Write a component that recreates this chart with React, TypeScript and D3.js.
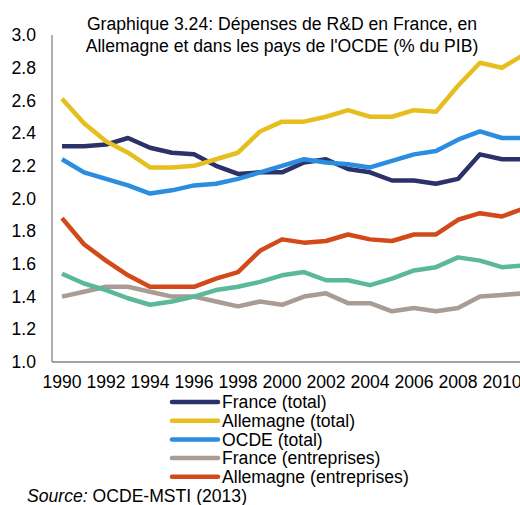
import * as d3 from "d3"

const years = d3.range(1990, 2012)
const yTicks = [1.0, 1.2, 1.4, 1.6, 1.8, 2.0, 2.2, 2.4, 2.6, 2.8, 3.0]
const xTickYears = [1990, 1992, 1994, 1996, 1998, 2000, 2002, 2004, 2006, 2008, 2010]

const franceTotal = [2.32, 2.32, 2.33, 2.37, 2.31, 2.28, 2.27, 2.20, 2.15, 2.16, 2.16, 2.22, 2.24, 2.18, 2.16, 2.11, 2.11, 2.09, 2.12, 2.27, 2.24, 2.24]
const allemagneTotal = [2.61, 2.46, 2.35, 2.28, 2.19, 2.19, 2.20, 2.24, 2.28, 2.41, 2.47, 2.47, 2.50, 2.54, 2.50, 2.50, 2.54, 2.53, 2.69, 2.83, 2.80, 2.88]
const ocdeTotal = [2.24, 2.16, 2.12, 2.08, 2.03, 2.05, 2.08, 2.09, 2.12, 2.16, 2.20, 2.24, 2.22, 2.21, 2.19, 2.23, 2.27, 2.29, 2.36, 2.41, 2.37, 2.37]
const franceEntr = [1.40, 1.43, 1.46, 1.46, 1.43, 1.40, 1.40, 1.37, 1.34, 1.37, 1.35, 1.40, 1.42, 1.36, 1.36, 1.31, 1.33, 1.31, 1.33, 1.40, 1.41, 1.42]
const allemagneEntr = [1.88, 1.72, 1.62, 1.53, 1.46, 1.46, 1.46, 1.51, 1.55, 1.68, 1.75, 1.73, 1.74, 1.78, 1.75, 1.74, 1.78, 1.78, 1.87, 1.91, 1.89, 1.94]
const ocdeEntr = [1.54, 1.48, 1.44, 1.39, 1.35, 1.37, 1.40, 1.44, 1.46, 1.49, 1.53, 1.55, 1.50, 1.50, 1.47, 1.51, 1.56, 1.58, 1.64, 1.62, 1.58, 1.59]

const series = [
  { name: "France (total)", values: franceTotal, color: "#2b3169", legend: true },
  { name: "Allemagne (total)", values: allemagneTotal, color: "#e6bf1f", legend: true },
  { name: "OCDE (total)", values: ocdeTotal, color: "#2b8de0", legend: true },
  { name: "France (entreprises)", values: franceEntr, color: "#a99c95", legend: true },
  { name: "Allemagne (entreprises)", values: allemagneEntr, color: "#d2491a", legend: true },
  { name: "OCDE (entreprises)", values: ocdeEntr, color: "#5bb898", legend: false },
]

const titleLines = [
  "Graphique 3.24: Dépenses de R&D en France, en",
  "Allemagne et dans les pays de l'OCDE (% du PIB)",
]

export default function App() {
  const width = 520
  const height = 505
  const font = "'Liberation Sans', Arial, sans-serif"
  const fs = 17.6
  const plot = { left: 52, top: 35, bottom: 362 }
  const step = 22

  const x = d3.scaleBand<number>()
    .domain(years)
    .range([plot.left - 1, plot.left - 1 + step * years.length])
  const cx = (yr: number) => (x(yr) as number) + x.bandwidth() / 2
  const y = d3.scaleLinear().domain([1, 3]).range([plot.bottom, plot.top])

  const line = d3.line<number>()
    .x((_, i) => cx(years[i]))
    .y(d => y(d))

  const legendItems = series.filter(s => s.legend)

  return (
    <svg width={width} height={height} style={{ position: "absolute", left: 0, top: 0 }} fontFamily={font}>
      <rect width={width} height={height} fill="white" />
      {titleLines.map((t, i) => (
        <text key={i} x={282} y={30 + i * 22} textAnchor="middle" fontSize={fs} fill="#000">{t}</text>
      ))}
      {/* y axis */}
      <line x1={plot.left} x2={plot.left} y1={plot.top} y2={plot.bottom} stroke="#868686" strokeWidth={1.3} />
      {yTicks.map(t => (
        <text key={t} x={36} y={y(t)} dy="0.35em" textAnchor="end" fontSize={fs}>{t.toFixed(1)}</text>
      ))}
      {/* x axis */}
      <line x1={plot.left} x2={width} y1={plot.bottom} y2={plot.bottom} stroke="#868686" strokeWidth={1.3} />
      {xTickYears.map(yr => (
        <text key={yr} x={cx(yr)} y={388} textAnchor="middle" fontSize={fs}>{yr}</text>
      ))}
      {/* lines */}
      {series.map(s => (
        <path key={s.name} d={line(s.values) as string} fill="none" stroke={s.color}
          strokeWidth={4.5} strokeLinejoin="round" />
      ))}
      {/* legend */}
      {legendItems.map((s, i) => {
        const ly = 402 + i * 18.7
        return (
          <g key={s.name}>
            <line x1={172} x2={218} y1={ly} y2={ly} stroke={s.color} strokeWidth={4.5} strokeLinecap="round" />
            <text x={222} y={ly} dy="0.36em" fontSize={fs}>{s.name}</text>
          </g>
        )
      })}
      <text x={27} y={502} fontSize={fs}>
        <tspan fontStyle="italic">Source:</tspan> OCDE-MSTI (2013)
      </text>
    </svg>
  )
}
